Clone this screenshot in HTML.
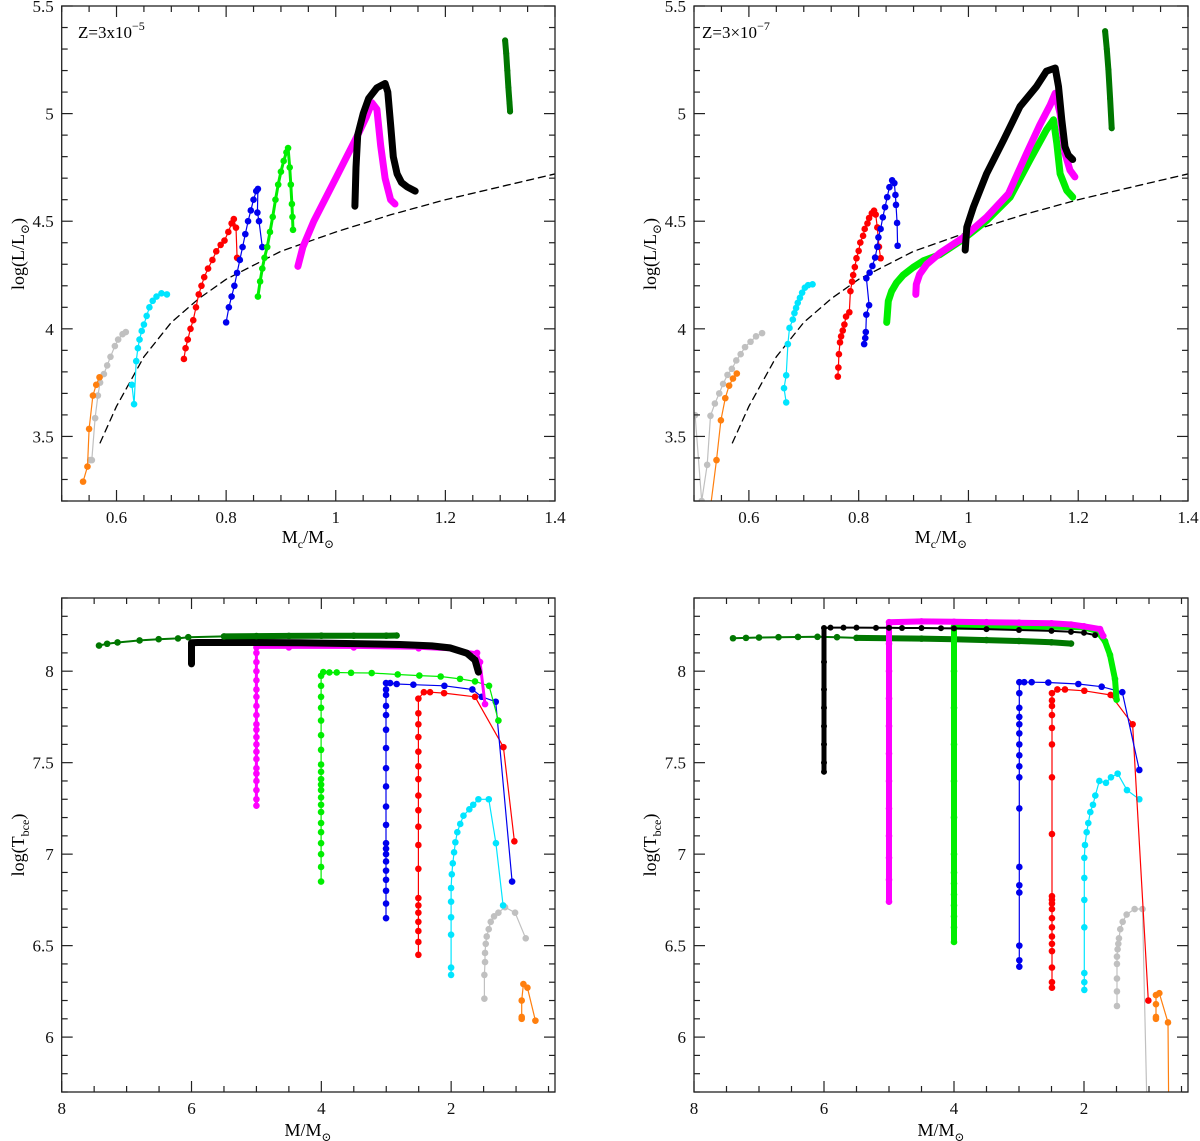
<!DOCTYPE html>
<html><head><meta charset="utf-8"><style>
html,body{margin:0;padding:0;background:#fff;}
svg{display:block;font-family:"Liberation Serif","DejaVu Serif",serif;}
</style></head><body>
<svg id="fig" width="1200" height="1141" viewBox="0 0 1200 1141" xmlns="http://www.w3.org/2000/svg">
<defs>
<clipPath id="c-tl"><rect x="61.7" y="6" width="493.3" height="495"/></clipPath>
<clipPath id="c-tr"><rect x="694" y="6" width="494" height="495"/></clipPath>
<clipPath id="c-bl"><rect x="61.7" y="598" width="493.3" height="494"/></clipPath>
<clipPath id="c-br"><rect x="694" y="598" width="494" height="494"/></clipPath>
</defs>
<text x="78" y="38" font-size="17">Z=3x10<tspan dy="-8" font-size="12">−5</tspan></text>
<text x="702" y="38" font-size="17">Z=3×10<tspan dy="-8" font-size="12">−7</tspan></text>
<text x="308" y="543" font-size="18" text-anchor="middle">M<tspan dy="5" font-size="12">c</tspan><tspan dy="-5">/M</tspan><tspan dy="5" font-size="12">⊙</tspan></text>
<text x="941" y="543" font-size="18" text-anchor="middle">M<tspan dy="5" font-size="12">c</tspan><tspan dy="-5">/M</tspan><tspan dy="5" font-size="12">⊙</tspan></text>
<text x="308" y="1136" font-size="18" text-anchor="middle">M/M<tspan dy="5" font-size="12">⊙</tspan></text>
<text x="941" y="1136" font-size="18" text-anchor="middle">M/M<tspan dy="5" font-size="12">⊙</tspan></text>
<text transform="translate(24,254) rotate(-90)" font-size="18" text-anchor="middle">log(L/L<tspan dy="5" font-size="12">⊙</tspan><tspan dy="-5">)</tspan></text>
<text transform="translate(656,254) rotate(-90)" font-size="18" text-anchor="middle">log(L/L<tspan dy="5" font-size="12">⊙</tspan><tspan dy="-5">)</tspan></text>
<text transform="translate(24,845) rotate(-90)" font-size="18" text-anchor="middle">log(T<tspan dy="5" font-size="12">bce</tspan><tspan dy="-5">)</tspan></text>
<text transform="translate(656,845) rotate(-90)" font-size="18" text-anchor="middle">log(T<tspan dy="5" font-size="12">bce</tspan><tspan dy="-5">)</tspan></text>
</svg>
<script>
// ---------- shared dashed relation (top panels)
const dashX=[0.57,0.6,0.65,0.7,0.75,0.8,0.9,1.0,1.1,1.2,1.3,1.4];
const dashY=[3.47,3.64,3.87,4.03,4.14,4.23,4.36,4.45,4.53,4.60,4.66,4.72];
// ---------- top-left (Z=3e-5): Mc vs logL
const tlOrangeX=[0.539,0.547,0.550,0.557,0.563,0.569];
const tlOrangeY=[3.29,3.36,3.535,3.69,3.74,3.775];
const tlGrayX=[0.552,0.555,0.561,0.566,0.570,0.577,0.583,0.589,0.597,0.603,0.611,0.617];
const tlGrayY=[3.39,3.39,3.585,3.69,3.75,3.79,3.83,3.87,3.92,3.95,3.975,3.985];
const tlCyanX=[0.628,0.632,0.636,0.639,0.642,0.646,0.650,0.655,0.660,0.666,0.673,0.682,0.692];
const tlCyanY=[3.74,3.65,3.85,3.91,3.95,3.99,4.02,4.06,4.10,4.13,4.15,4.165,4.16];
const tlRedX=[0.723,0.726,0.730,0.735,0.740,0.745,0.750,0.755,0.760,0.767,0.775,0.782,0.790,0.797,0.804,0.810,0.814,0.818,0.820];
const tlRedY=[3.86,3.91,3.95,4.0,4.04,4.1,4.16,4.2,4.24,4.28,4.32,4.36,4.39,4.41,4.45,4.49,4.51,4.47,4.33];
const tlBlueX=[0.80,0.805,0.81,0.815,0.82,0.825,0.83,0.835,0.84,0.845,0.85,0.855,0.858,0.857,0.86,0.866];
const tlBlueY=[4.03,4.1,4.15,4.2,4.26,4.32,4.38,4.44,4.5,4.55,4.6,4.64,4.65,4.54,4.5,4.38];
const tlGreenX=[0.858,0.862,0.866,0.87,0.875,0.88,0.885,0.89,0.895,0.9,0.905,0.91,0.913,0.916,0.918,0.92,0.921,0.922];
const tlGreenY=[4.15,4.22,4.28,4.33,4.38,4.45,4.52,4.6,4.67,4.73,4.78,4.82,4.84,4.75,4.67,4.58,4.52,4.46];
const tlMagentaX=[0.931,0.94,0.96,0.98,1.0,1.02,1.04,1.055,1.066,1.075,1.082,1.09,1.1,1.108];
const tlMagentaY=[4.29,4.38,4.5,4.6,4.7,4.8,4.9,4.98,5.05,5.02,4.85,4.7,4.6,4.58];
const tlBlackX=[1.035,1.037,1.04,1.05,1.06,1.075,1.09,1.095,1.1,1.105,1.112,1.12,1.13,1.145];
const tlBlackY=[4.57,4.75,4.9,5.0,5.07,5.12,5.14,5.1,4.95,4.8,4.72,4.68,4.66,4.64];
const tlDkGreenX=[1.309,1.311,1.313,1.315,1.317,1.318];
const tlDkGreenY=[5.34,5.28,5.2,5.12,5.05,5.01];
// ---------- top-right (Z=3e-7)
const trGrayX=[0.502,0.514,0.524,0.530,0.538,0.546,0.553,0.561,0.569,0.577,0.585,0.593,0.603,0.613,0.624];
const trGrayY=[3.599,3.2,3.368,3.596,3.653,3.70,3.744,3.786,3.814,3.853,3.882,3.915,3.94,3.965,3.98];
const trOrangeX=[0.529,0.541,0.549,0.557,0.564,0.571,0.578];
const trOrangeY=[3.15,3.39,3.575,3.678,3.736,3.769,3.792];
const trCyanX=[0.668,0.664,0.668,0.671,0.674,0.680,0.683,0.686,0.689,0.693,0.697,0.702,0.708,0.716];
const trCyanY=[3.658,3.724,3.784,3.929,4.004,4.043,4.073,4.097,4.121,4.144,4.168,4.191,4.203,4.207];
const trRedX=[0.762,0.763,0.764,0.766,0.768,0.771,0.774,0.777,0.783,0.785,0.788,0.790,0.793,0.796,0.800,0.803,0.808,0.811,0.816,0.819,0.824,0.828,0.831,0.834,0.837,0.840];
const trRedY=[3.778,3.82,3.882,3.937,3.965,3.992,4.02,4.057,4.077,4.175,4.219,4.25,4.287,4.328,4.362,4.401,4.432,4.464,4.49,4.515,4.537,4.549,4.531,4.471,4.381,4.328];
const trBlueX=[0.810,0.812,0.813,0.814,0.819,0.814,0.820,0.825,0.830,0.834,0.836,0.840,0.844,0.848,0.852,0.856,0.861,0.865,0.867,0.868,0.870,0.871];
const trBlueY=[3.929,3.957,3.985,4.066,4.11,4.235,4.261,4.292,4.331,4.381,4.425,4.464,4.518,4.565,4.612,4.658,4.69,4.677,4.622,4.576,4.492,4.386];
const trGreenX=[0.851,0.852,0.854,0.860,0.869,0.881,0.899,0.918,0.948,0.991,1.033,1.076,1.112,1.142,1.155,1.161,1.167,1.179,1.190];
const trGreenY=[4.03,4.058,4.129,4.175,4.214,4.249,4.285,4.316,4.345,4.418,4.503,4.612,4.784,4.924,4.971,4.862,4.721,4.643,4.612];
const trMagentaX=[0.904,0.905,0.911,0.924,0.948,0.991,1.033,1.073,1.106,1.130,1.149,1.158,1.167,1.176,1.185,1.194];
const trMagentaY=[4.16,4.207,4.253,4.3,4.352,4.425,4.519,4.628,4.815,4.947,5.04,5.095,5.0,4.815,4.737,4.706];
const trBlackX=[0.994,0.997,1.009,1.033,1.064,1.094,1.124,1.142,1.158,1.164,1.170,1.176,1.182,1.190];
const trBlackY=[4.366,4.472,4.566,4.721,4.877,5.033,5.126,5.197,5.212,5.126,4.971,4.846,4.807,4.787];
const trDkGreenX=[1.249,1.252,1.255,1.258,1.261];
const trDkGreenY=[5.383,5.3,5.204,5.07,4.932];
// ---------- bottom-left: M vs logTbce (Z=3e-5)
const blDkGreenX=[7.425,7.30,7.14,6.80,6.506,6.208,6.05,5.5,5.0,4.5,4.0,3.5,3.0,2.84];
const blDkGreenY=[8.14,8.15,8.157,8.168,8.175,8.179,8.186,8.19,8.192,8.193,8.194,8.194,8.194,8.195];
const blBlackX=[6.0,6.0,5.9,5.0,4.33,3.5,2.79,2.3,2.017,1.76,1.632,1.58];
const blBlackY=[8.04,8.155,8.157,8.157,8.155,8.151,8.146,8.138,8.127,8.099,8.061,7.995];
const blMagentaX=[5,5,5,5,5,5,5,5,5,5,5,5,5,5,5,5,5,5,5,5,5,4.5,3.5,2.5,1.9,1.6,1.555,1.478];
const blMagentaY=[7.265,7.30,7.35,7.40,7.44,7.47,7.52,7.56,7.60,7.64,7.68,7.71,7.76,7.81,7.86,7.9,7.95,8.0,8.05,8.1,8.13,8.13,8.13,8.125,8.115,8.1,8.05,7.82];
const blGreenX=[4.004,4.004,4.004,4.004,4.004,4.004,4.004,4.004,4.004,4.004,4.004,4.004,4.004,4.004,4.004,4.004,4.004,4.004,4.004,4.004,4.004,3.97,3.876,3.763,3.542,3.224,2.823,2.49,2.161,1.863,1.632,1.416,1.272];
const blGreenY=[6.85,6.93,7.0,7.06,7.12,7.17,7.23,7.27,7.31,7.35,7.38,7.41,7.45,7.49,7.57,7.65,7.73,7.80,7.86,7.92,7.975,7.995,7.993,7.993,7.991,7.99,7.982,7.976,7.971,7.958,7.944,7.92,7.73];
const blBlueX=[3.003,3.003,3.003,3.003,3.003,3.003,3.003,3.003,3.003,3.003,3.003,3.003,3.003,3.003,3.003,3.003,3.003,3.003,3.003,3.003,2.94,2.839,2.582,2.104,1.673,1.529,1.313,1.061];
const blBlueY=[6.65,6.73,6.80,6.86,6.91,6.96,7.0,7.03,7.06,7.16,7.26,7.37,7.47,7.58,7.68,7.76,7.81,7.87,7.9,7.935,7.935,7.93,7.926,7.92,7.9,7.86,7.833,6.85];
const blRedX=[2.505,2.505,2.505,2.505,2.505,2.505,2.505,2.505,2.505,2.505,2.505,2.505,2.505,2.505,2.505,2.505,2.505,2.505,2.505,2.42,2.325,2.109,1.632,1.195,1.026];
const blRedY=[6.45,6.52,6.58,6.63,6.68,6.72,6.76,6.92,7.05,7.15,7.24,7.32,7.41,7.48,7.56,7.64,7.71,7.77,7.85,7.885,7.885,7.88,7.86,7.585,7.07];
const blCyanX=[2.001,2.001,2.001,2.001,2.001,2.001,1.99,1.975,1.955,1.935,1.905,1.86,1.81,1.72,1.66,1.58,1.42,1.31,1.2];
const blCyanY=[6.34,6.38,6.56,6.655,6.74,6.815,6.89,6.95,7.01,7.065,7.12,7.165,7.21,7.245,7.27,7.30,7.30,7.06,6.72];
const blGrayX=[1.488,1.488,1.478,1.478,1.467,1.452,1.421,1.39,1.339,1.272,1.17,1.015,0.851];
const blGrayY=[6.21,6.34,6.41,6.46,6.51,6.55,6.59,6.63,6.66,6.68,6.71,6.68,6.54];
const blOrangeX=[0.913,0.913,0.913,0.887,0.825,0.702];
const blOrangeY=[6.1,6.11,6.2,6.29,6.27,6.09];
// ---------- bottom-right (Z=3e-7)
const brDkGreenX=[7.4,7.2,7.0,6.7,6.4,6.1,5.8,5.5,5.0,4.5,4.0,3.5,3.0,2.5,2.2];
const brDkGreenY=[8.18,8.182,8.184,8.186,8.187,8.188,8.186,8.182,8.18,8.178,8.175,8.17,8.165,8.158,8.151];
const brMagentaX=[5,5,5,5,5,5,5,5,5,5,5,5,4.5,4,3.5,3,2.5,2.2,2.0,1.754,1.703];
const brMagentaY=[6.74,6.86,6.98,7.1,7.25,7.4,7.55,7.7,7.85,8.0,8.15,8.268,8.272,8.27,8.268,8.265,8.262,8.255,8.245,8.23,8.192];
const brBlackX=[6,6,6,6,6,6,6,6,5.9,5.7,5.5,5.2,5.0,4.8,4.5,4.2,4.0,3.5,3.0,2.5,2.2,2.0,1.83];
const brBlackY=[7.45,7.5,7.6,7.7,7.8,7.9,8.05,8.236,8.238,8.238,8.238,8.237,8.237,8.236,8.236,8.235,8.234,8.23,8.225,8.22,8.215,8.21,8.197];
const brGreenX=[4,4,4,4,4,4,4,4,4,4,4,4,4,4,3.5,3,2.5,2.0,1.8,1.677,1.60,1.523,1.498];
const brGreenY=[6.52,6.6,6.66,6.72,6.78,6.84,6.9,7.0,7.2,7.4,7.6,7.8,8.0,8.243,8.243,8.243,8.243,8.24,8.22,8.164,8.089,7.957,7.844];
const brBlueX=[2.995,2.995,2.995,2.995,2.995,2.995,2.995,2.995,2.995,2.995,2.995,2.995,2.995,2.995,2.995,2.995,2.995,2.92,2.805,2.549,2.087,1.728,1.411,1.149];
const brBlueY=[6.385,6.42,6.5,6.79,6.83,6.93,7.25,7.42,7.48,7.54,7.6,7.66,7.71,7.75,7.8,7.88,7.94,7.94,7.94,7.938,7.93,7.915,7.885,7.46];
const brRedX=[2.493,2.493,2.493,2.493,2.493,2.493,2.493,2.493,2.493,2.493,2.493,2.493,2.493,2.493,2.493,2.493,2.493,2.493,2.493,2.493,2.41,2.293,1.995,1.59,1.252,1.01];
const brRedY=[6.27,6.3,6.38,6.47,6.51,6.55,6.6,6.65,6.7,6.73,6.75,6.77,7.11,7.42,7.6,7.69,7.76,7.81,7.84,7.88,7.9,7.9,7.893,7.87,7.71,6.2];
const brCyanX=[1.995,1.995,1.995,1.995,1.995,1.995,1.995,1.985,1.959,1.934,1.903,1.862,1.826,1.764,1.662,1.585,1.482,1.339,1.149];
const brCyanY=[6.258,6.3,6.35,6.6,6.75,6.87,6.98,7.05,7.12,7.17,7.23,7.27,7.32,7.4,7.39,7.42,7.44,7.35,7.3];
const brGrayX=[1.493,1.493,1.493,1.493,1.493,1.483,1.472,1.462,1.442,1.405,1.344,1.221,1.10,1.036,1.02];
const brGrayY=[6.17,6.25,6.32,6.4,6.44,6.48,6.51,6.54,6.59,6.63,6.67,6.7,6.7,5.68,5.4];
const brOrangeX=[0.893,0.893,0.893,0.893,0.841,0.708,0.698,0.69];
const brOrangeY=[6.1,6.11,6.18,6.23,6.24,6.08,5.68,5.4];

const NS="http://www.w3.org/2000/svg";
const svg=document.getElementById('fig');
function mk(tag,attrs,parent){const e=document.createElementNS(NS,tag);for(const k in attrs)e.setAttribute(k,attrs[k]);(parent||svg).appendChild(e);return e;}

function makePanel(id,px0,px1,py0,py1,xmin,xmax,ymin,ymax){
  const sx=v=>px0+(v-xmin)/(xmax-xmin)*(px1-px0);
  const sy=v=>py1-(v-ymin)/(ymax-ymin)*(py1-py0);
  const g=mk('g',{'clip-path':'url(#c-'+id+')'});
  
  
  return {id,px0,px1,py0,py1,xmin,xmax,ymin,ymax,sx,sy,g};
}
function drawAxes(p,xMinorStep,xMajorStep,yMinorStep,yMajorStep,xLabelFn,yLabelFn){
  const ax=mk('g',{});
  
  
  const fr=mk('rect',{x:p.px0,y:p.py0,width:p.px1-p.px0,height:p.py1-p.py0,fill:'none',stroke:'#222','stroke-width':1.3},ax);
  
  
  const lo=Math.min(p.xmin,p.xmax),hi=Math.max(p.xmin,p.xmax);
  const n0=Math.ceil(lo/xMinorStep-1e-6),n1=Math.floor(hi/xMinorStep+1e-6);
  for(let n=n0;n<=n1;n++){
    const v=n*xMinorStep;const x=p.sx(v);
    const major=Math.abs(v/xMajorStep-Math.round(v/xMajorStep))<1e-6;
    const L=major?11:6;
    mk('line',{x1:x,x2:x,y1:p.py1,y2:p.py1-L,stroke:'#222','stroke-width':1.2},ax);
    mk('line',{x1:x,x2:x,y1:p.py0,y2:p.py0+L,stroke:'#222','stroke-width':1.2},ax);
    if(major){const t=mk('text',{x:x,y:p.py1+22,'font-size':17,'text-anchor':'middle',fill:'#111'},ax);t.textContent=xLabelFn(v);
      
      }
  }
  const m0=Math.ceil(p.ymin/yMinorStep-1e-6),m1=Math.floor(p.ymax/yMinorStep+1e-6);
  for(let n=m0;n<=m1;n++){
    const v=n*yMinorStep;const y=p.sy(v);
    const major=Math.abs(v/yMajorStep-Math.round(v/yMajorStep))<1e-6;
    const L=major?11:6;
    mk('line',{x1:p.px0,x2:p.px0+L,y1:y,y2:y,stroke:'#222','stroke-width':1.2},ax);
    mk('line',{x1:p.px1,x2:p.px1-L,y1:y,y2:y,stroke:'#222','stroke-width':1.2},ax);
    if(major){const t=mk('text',{x:p.px0-8,y:y+6,'font-size':17,'text-anchor':'end',fill:'#111'},ax);t.textContent=yLabelFn(v);
      
      }
  }
}
function series(p,xs,ys,color,lw,r,name,dash){
  const g=mk('g',{},p.g);
  
  
  const pts=xs.map((x,i)=>p.sx(x).toFixed(1)+','+p.sy(ys[i]).toFixed(1)).join(' ');
  const a={points:pts,fill:'none',stroke:color,'stroke-width':lw,'stroke-linejoin':'round','stroke-linecap':'round'};
  if(dash)a['stroke-dasharray']=dash;
  mk('polyline',a,g);
  if(r>0)xs.forEach((x,i)=>{mk('circle',{cx:p.sx(x),cy:p.sy(ys[i]),r:r,fill:color},g);});
}
const fmtX=v=>(Math.round(v*10)/10).toString();
const fmtI=v=>(Math.round(v*10)/10).toString();

const OR='#ff7f0e',GY='#c0c0c0',CY='#00e5ff',RD='#ff0000',BL='#0000ee',GR='#00ee00',MG='#ff00ff',BK='#000000',DG='#007700';

// top-left
const tl=makePanel('tl',61.7,555,6,501,0.5,1.4,3.2,5.5);
drawAxes(tl,0.05,0.2,0.1,0.5,fmtX,fmtI);
series(tl,dashX,dashY,'#000',1.3,0,'dashed-relation-tl','7,5');
series(tl,tlGrayX,tlGrayY,GY,1.2,3.3,'series-gray-tl');
series(tl,tlOrangeX,tlOrangeY,OR,1.2,3.3,'series-orange-tl');
series(tl,tlCyanX,tlCyanY,CY,1.2,3.3,'series-cyan-tl');
series(tl,tlRedX,tlRedY,RD,1.2,3.3,'series-red-tl');
series(tl,tlBlueX,tlBlueY,BL,1.2,3.3,'series-blue-tl');
series(tl,tlGreenX,tlGreenY,GR,3,3.3,'series-green-tl');
series(tl,tlMagentaX,tlMagentaY,MG,7,3,'series-magenta-tl');
series(tl,tlBlackX,tlBlackY,BK,7,3,'series-black-tl');
series(tl,tlDkGreenX,tlDkGreenY,DG,6,3,'series-darkgreen-tl');

// top-right
const tr=makePanel('tr',694,1188,6,501,0.5,1.4,3.2,5.5);
drawAxes(tr,0.05,0.2,0.1,0.5,fmtX,fmtI);
series(tr,dashX,dashY,'#000',1.3,0,'dashed-relation-tr','7,5');
series(tr,trGrayX,trGrayY,GY,1.2,3.3,'series-gray-tr');
series(tr,trOrangeX,trOrangeY,OR,1.2,3.3,'series-orange-tr');
series(tr,trCyanX,trCyanY,CY,1.2,3.3,'series-cyan-tr');
series(tr,trRedX,trRedY,RD,1.2,3.3,'series-red-tr');
series(tr,trBlueX,trBlueY,BL,1.2,3.3,'series-blue-tr');
series(tr,trGreenX,trGreenY,GR,7,3,'series-green-tr');
series(tr,trMagentaX,trMagentaY,MG,7,3,'series-magenta-tr');
series(tr,trBlackX,trBlackY,BK,7,3,'series-black-tr');
series(tr,trDkGreenX,trDkGreenY,DG,6,3,'series-darkgreen-tr');

// bottom-left
const bl=makePanel('bl',61.7,555,598,1092,8,0.4,5.7,8.4);
drawAxes(bl,0.5,2,0.1,0.5,fmtI,fmtI);
series(bl,blGrayX,blGrayY,GY,1.2,3.3,'series-gray-bl');
series(bl,blOrangeX,blOrangeY,OR,1.2,3.3,'series-orange-bl');
series(bl,blCyanX,blCyanY,CY,1.2,3.3,'series-cyan-bl');
series(bl,blRedX,blRedY,RD,1.2,3.3,'series-red-bl');
series(bl,blBlueX,blBlueY,BL,1.2,3.3,'series-blue-bl');
series(bl,blGreenX,blGreenY,GR,1.2,3.3,'series-green-bl');
series(bl,blMagentaX,blMagentaY,MG,3,3.3,'series-magenta-bl');
series(bl,blBlackX,blBlackY,BK,7,3,'series-black-bl');
series(bl,blDkGreenX,blDkGreenY,DG,2,3.3,'series-darkgreen-bl');
series(bl,blDkGreenX.slice(7),blDkGreenY.slice(7),DG,6,0,'series-darkgreen-dense-bl');

// bottom-right
const br=makePanel('br',694,1188,598,1092,8,0.4,5.7,8.4);
drawAxes(br,0.5,2,0.1,0.5,fmtI,fmtI);
series(br,brGrayX,brGrayY,GY,1.2,3.3,'series-gray-br');
series(br,brOrangeX,brOrangeY,OR,1.2,3.3,'series-orange-br');
series(br,brCyanX,brCyanY,CY,1.2,3.3,'series-cyan-br');
series(br,brRedX,brRedY,RD,1.2,3.3,'series-red-br');
series(br,brBlueX,brBlueY,BL,1.2,3.3,'series-blue-br');
series(br,brDkGreenX,brDkGreenY,DG,2,3.3,'series-darkgreen-br');
series(br,brDkGreenX.slice(7),brDkGreenY.slice(7),DG,6,0,'series-darkgreen-dense-br');
series(br,brGreenX,brGreenY,GR,6,3.3,'series-green-br');
series(br,brMagentaX,brMagentaY,MG,6,3.3,'series-magenta-br');
series(br,brBlackX,brBlackY,BK,2,3,'series-black-br');
series(br,brBlackX.slice(0,8),brBlackY.slice(0,8),BK,5,0,'series-black-vertical-br');
</script>
</body></html>
